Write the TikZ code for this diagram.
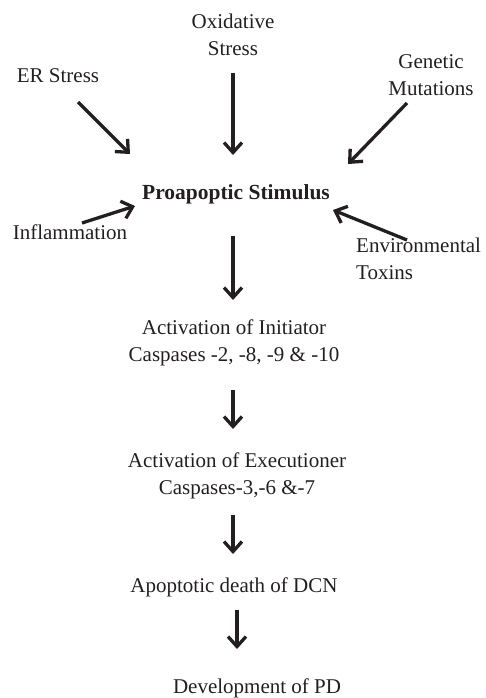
\documentclass[tikz,border=0pt]{standalone}
\usepackage{fontspec}
\setmainfont{Liberation Serif}
\usetikzlibrary{arrows.meta}
\definecolor{ink}{HTML}{231F20}
\tikzset{
  lbl/.style={text=ink, font=\fontsize{21}{27}\selectfont, align=center, inner sep=0pt},
  arr/.style={draw=ink, line width=3.3pt, -{Straight Barb[length=10pt, width=18pt, line width=3.3pt]}}
}
\begin{document}
\begin{tikzpicture}[x=1pt, y=-1pt]
\useasboundingbox (0,0) rectangle (485,698);
% labels
\node[lbl] (ox) at (233,35) {Oxidative\\Stress};
\node[lbl] (er) at (58,76) {ER Stress};
\node[lbl] (gen) at (431,75) {Genetic\\Mutations};
\node[lbl, font=\fontsize{21.5}{24}\selectfont\bfseries] (pro) at (236,194) {Proapoptic Stimulus};
\node[lbl] (inf) at (70,232) {Inflammation};
\node[lbl, align=left, anchor=west] (env) at (356,259) {Environmental\\Toxins};
\node[lbl] (ini) at (234,343) {Activation of Initiator\\Caspases -2, -8, -9 \& -10};
\node[lbl] (exe) at (237,476) {Activation of Executioner\\Caspases-3,-6 \&-7};
\node[lbl] (apo) at (234,587) {Apoptotic death of DCN};
\node[lbl] (dev) at (257,688) {Development of PD};
% arrow end points
\coordinate (erS) at (78,102);  \coordinate (erE) at (130,154);
\coordinate (oxS) at (233,73);  \coordinate (oxE) at (233,155);
\coordinate (genS) at (407,103); \coordinate (genE) at (348,164);
\coordinate (infS) at (82,223); \coordinate (infE) at (135,206);
\coordinate (envS) at (407,240); \coordinate (envE) at (333,210);
\coordinate (p1S) at (233,236); \coordinate (p1E) at (233,300);
\coordinate (p2S) at (233,390); \coordinate (p2E) at (233,429);
\coordinate (p3S) at (233,515); \coordinate (p3E) at (233,554);
\coordinate (p4S) at (237,610); \coordinate (p4E) at (237,649);
% arrows
\draw[arr] (erS) -- (erE);
\draw[arr] (oxS) -- (oxE);
\draw[arr] (genS) -- (genE);
\draw[arr] (infS) -- (infE);
\draw[arr] (envS) -- (envE);
\draw[arr] (p1S) -- (p1E);
\draw[arr] (p2S) -- (p2E);
\draw[arr] (p3S) -- (p3E);
\draw[arr] (p4S) -- (p4E);
\end{tikzpicture}
\end{document}
